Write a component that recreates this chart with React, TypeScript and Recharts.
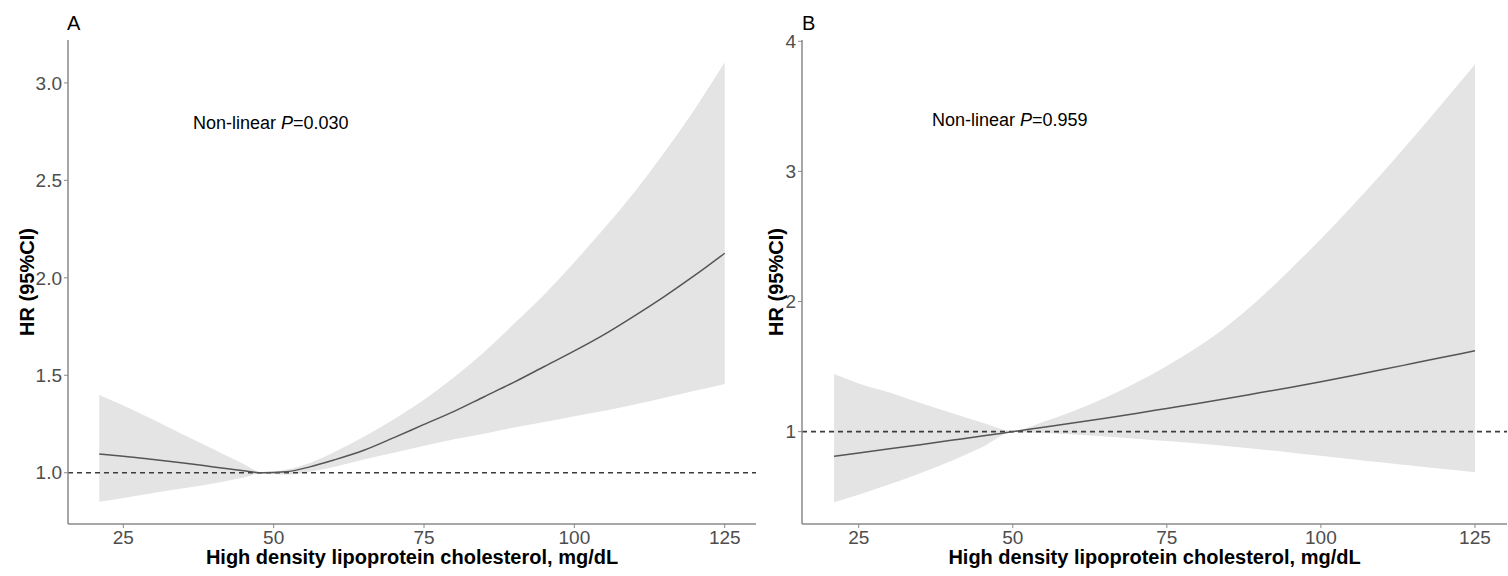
import { ComposedChart, Area, Line, XAxis, YAxis, ReferenceLine } from 'recharts';

const hdlA = [21, 25, 30, 35, 40, 45, 48, 52, 56, 60, 65, 70, 75, 80, 85, 90, 95, 100, 105, 110, 115, 120, 125];
const hrA = [1.096, 1.085, 1.068, 1.05, 1.03, 1.01, 1.0, 1.005, 1.03, 1.065, 1.115, 1.18, 1.248, 1.315, 1.39, 1.465, 1.545, 1.625, 1.71, 1.805, 1.905, 2.012, 2.126];
const lowA = [0.851, 0.87, 0.896, 0.92, 0.945, 0.975, 0.997, 0.99, 1.005, 1.03, 1.068, 1.103, 1.138, 1.172, 1.2, 1.232, 1.26, 1.29, 1.318, 1.35, 1.385, 1.42, 1.455];
const highA = [1.399, 1.345, 1.272, 1.195, 1.12, 1.045, 1.003, 1.015, 1.05, 1.105, 1.185, 1.275, 1.375, 1.49, 1.62, 1.765, 1.915, 2.08, 2.255, 2.44, 2.645, 2.865, 3.106];

const hdlB = [21, 25, 30, 35, 40, 45, 50, 55, 60, 65, 70, 75, 80, 85, 90, 95, 100, 105, 110, 115, 120, 125];
const hrB = [0.811, 0.835, 0.868, 0.9, 0.933, 0.966, 1.0, 1.034, 1.068, 1.103, 1.14, 1.178, 1.216, 1.256, 1.298, 1.34, 1.384, 1.43, 1.477, 1.525, 1.573, 1.621];
const lowB = [0.458, 0.515, 0.595, 0.68, 0.775, 0.88, 0.995, 0.99, 0.978, 0.962, 0.946, 0.928, 0.908, 0.887, 0.865, 0.84, 0.814, 0.788, 0.762, 0.737, 0.712, 0.688];
const highB = [1.442, 1.37, 1.3, 1.22, 1.145, 1.07, 1.005, 1.075, 1.16, 1.26, 1.375, 1.505, 1.65, 1.82, 2.02, 2.245, 2.48, 2.73, 2.99, 3.26, 3.54, 3.822];

const xTicks = [25, 50, 75, 100, 125];
const yTicksA = [1.0, 1.5, 2.0, 2.5, 3.0];
const yTicksB = [1, 2, 3, 4];

const xTitle = 'High density lipoprotein cholesterol, mg/dL';
const yTitle = 'HR (95%CI)';

const font = '"Liberation Sans", Arial, sans-serif';
const axisGrey = '#8a8a8a';
const tickStyle = { fill: '#4d4d4d', fontSize: 19, fontFamily: font };

const toRows = (xs: number[], hr: number[], lo: number[], hi: number[]) =>
  xs.map((x, i) => ({ x, hr: hr[i], band: [lo[i], hi[i]] }));

const dataA = toRows(hdlA, hrA, lowA, highA);
const dataB = toRows(hdlB, hrB, lowB, highB);

type PanelProps = {
  data: { x: number; hr: number; band: number[] }[];
  width: number;
  yWidth: number;
  rightMargin: number;
  yDomain: [number, number];
  yTicks: number[];
  fmt: (v: number) => string;
  titleOffset: number;
};

function Panel({ data, width, yWidth, rightMargin, yDomain, yTicks, fmt, titleOffset }: PanelProps) {
  return (
    <ComposedChart width={width} height={576} data={data} margin={{ top: 40, right: rightMargin, left: 0, bottom: 0 }}>
      <XAxis
        dataKey="x"
        type="number"
        domain={[15.8, 130.2]}
        allowDataOverflow
        ticks={xTicks}
        height={52}
        tickSize={4}
        tickMargin={3}
        tick={tickStyle}
        axisLine={{ stroke: axisGrey, strokeWidth: 1.5 }}
        tickLine={{ stroke: axisGrey }}
        label={{ value: xTitle, position: 'insideBottom', offset: 12, style: { fontWeight: 'bold', fontSize: 20, fill: '#000', fontFamily: font } }}
      />
      <YAxis
        type="number"
        domain={yDomain}
        allowDataOverflow
        ticks={yTicks}
        width={yWidth}
        tickSize={4}
        tickMargin={2}
        tickFormatter={fmt}
        tick={tickStyle}
        axisLine={{ stroke: axisGrey, strokeWidth: 1.5 }}
        tickLine={{ stroke: axisGrey }}
        label={{ value: yTitle, angle: -90, position: 'insideLeft', offset: titleOffset, style: { textAnchor: 'middle', fontWeight: 'bold', fontSize: 20, fill: '#000', fontFamily: font } }}
      />
      <Area dataKey="band" type="monotone" stroke="none" fill="#e4e4e4" fillOpacity={1} isAnimationActive={false} />
      <ReferenceLine y={1} stroke="#3c3c3c" strokeWidth={1.6} strokeDasharray="5 4" />
      <Line dataKey="hr" type="monotone" stroke="#555555" strokeWidth={1.5} dot={false} activeDot={false} isAnimationActive={false} />
    </ComposedChart>
  );
}

const abs = (left: number, top: number, extra: object = {}) => ({ position: 'absolute' as const, left, top, ...extra });

export default function App() {
  return (
    <div style={{ position: 'absolute', left: 0, top: 0, width: 1508, height: 576, background: '#fff', fontFamily: font }}>
      <div style={abs(0, 0)}>
        <Panel data={dataA} width={760} yWidth={68} rightMargin={4} yDomain={[0.737, 3.22]} yTicks={yTicksA} fmt={(v) => v.toFixed(1)} titleOffset={27} />
      </div>
      <div style={abs(760, 0)}>
        <Panel data={dataB} width={748} yWidth={42} rightMargin={1} yDomain={[0.29, 4.01]} yTicks={yTicksB} fmt={(v) => String(v)} titleOffset={16} />
      </div>
      <div style={abs(67, 11, { fontSize: 20, lineHeight: '24px', color: '#000' })}>A</div>
      <div style={abs(802, 11, { fontSize: 20, lineHeight: '24px', color: '#000' })}>B</div>
      <div style={abs(193, 112, { fontSize: 18, lineHeight: '22px', color: '#000', whiteSpace: 'nowrap' })}>
        Non-linear <i>P</i>=0.030
      </div>
      <div style={abs(932, 109, { fontSize: 18, lineHeight: '22px', color: '#000', whiteSpace: 'nowrap' })}>
        Non-linear <i>P</i>=0.959
      </div>
    </div>
  );
}
